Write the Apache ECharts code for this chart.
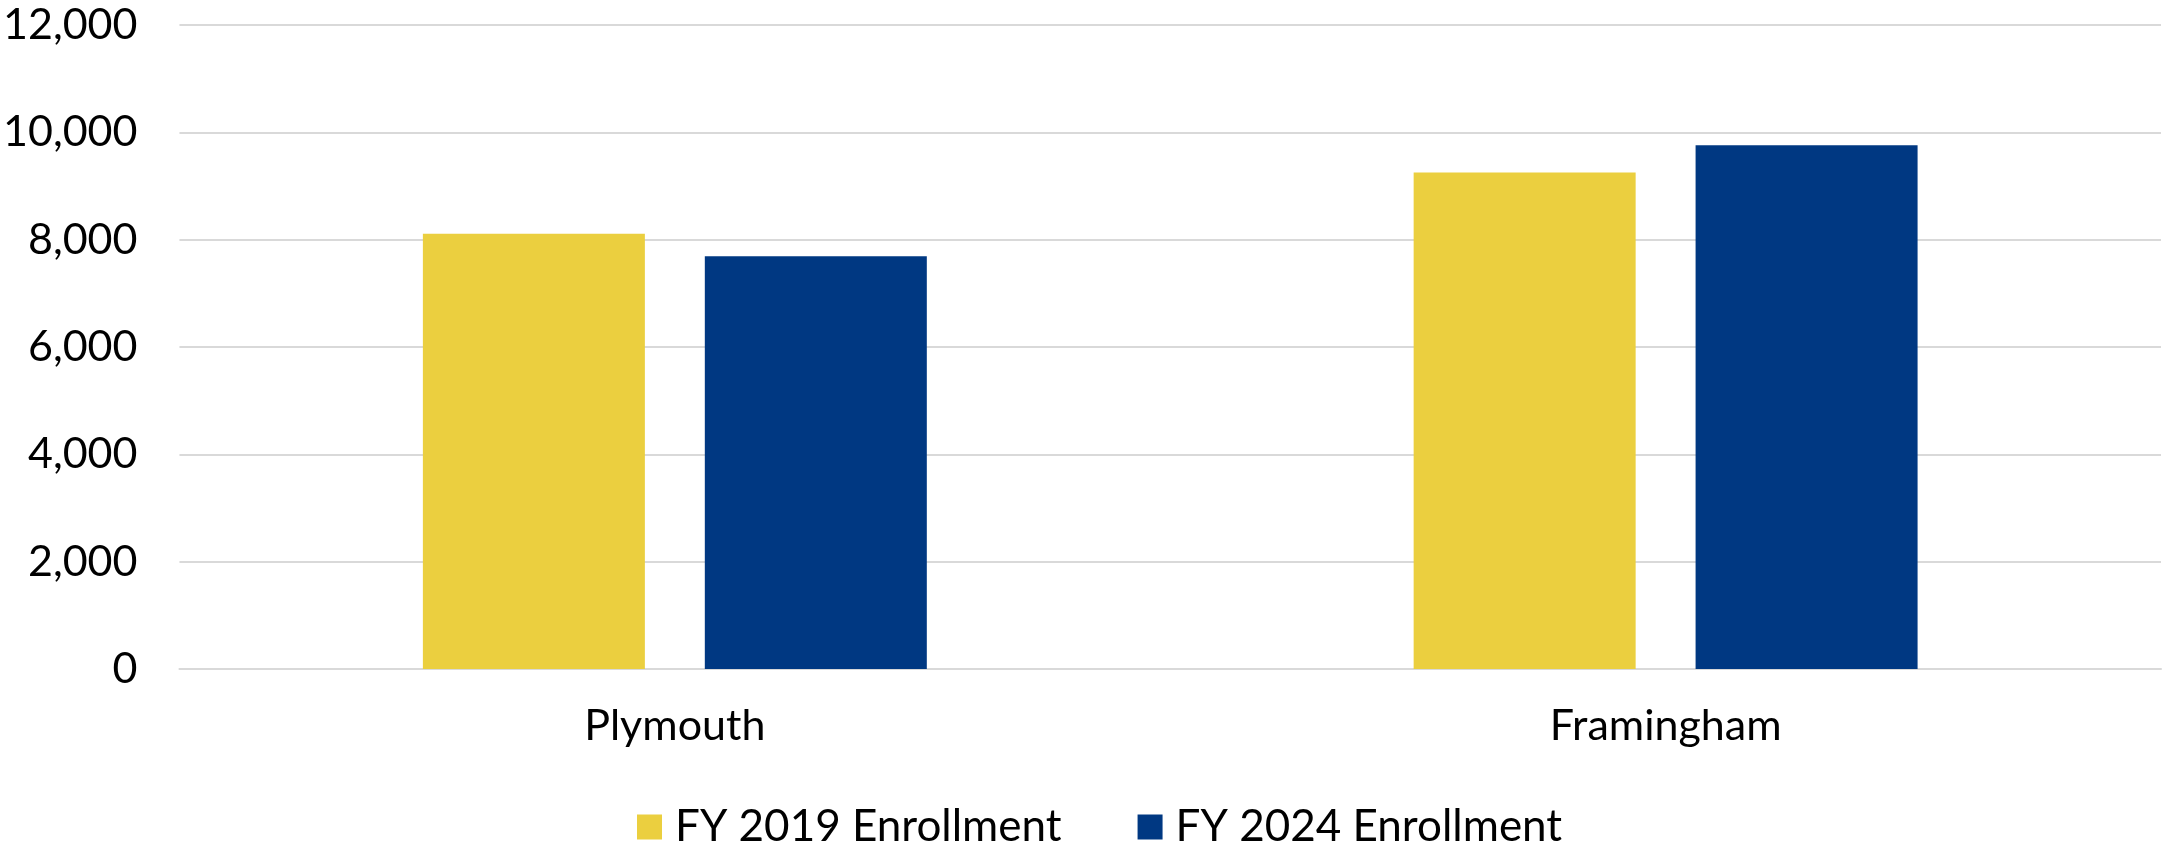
<!DOCTYPE html>
<html>
<head>
<meta charset="utf-8">
<script src="https://cdn.jsdelivr.net/npm/echarts@6/dist/echarts.min.js"></script>
<style>
  html, body { margin: 0; padding: 0; background: #fff; }
  #chart { width: 2163px; height: 846px; }
</style>
</head>
<body>
<div id="chart"></div>
<script>
// data
const campuses = ['Plymouth', 'Framingham']
const seriesNames = ['FY 2019 Enrollment', 'FY 2024 Enrollment']
const fy2019 = [8110, 9250]
const fy2024 = [7690, 9760]
const yTicks = { min: 0, max: 12000, interval: 2000 }

const FONT = 'Lato, "Open Sans", sans-serif'
const GRID_COLOR = '#d9d9d9'

const chart = echarts.init(document.getElementById('chart'))

chart.setOption({
  animation: false,
  color: ['#ebcf3f', '#003882'],
  grid: {
    left: 167,
    right: 2,
    top: 25,
    bottom: 177
  },
  legend: {
    data: seriesNames,
    left: 632,
    top: 800,
    itemWidth: 25,
    itemHeight: 25,
    itemGap: 76,
    icon: 'rect',
    textStyle: {
      fontFamily: FONT,
      fontSize: 44,
      color: '#000',
      padding: [0, 0, 0, 8]
    }
  },
  xAxis: {
    type: 'category',
    data: campuses,
    axisTick: { show: false },
    axisLine: { lineStyle: { color: GRID_COLOR, width: 2 } },
    axisLabel: {
      margin: 36,
      fontFamily: FONT,
      fontSize: 43,
      color: '#000'
    }
  },
  yAxis: {
    type: 'value',
    min: yTicks.min,
    max: yTicks.max,
    interval: yTicks.interval,
    axisLine: { show: false },
    axisTick: { show: false },
    splitLine: { lineStyle: { color: GRID_COLOR, width: 2 } },
    axisLabel: {
      margin: 42,
      fontFamily: FONT,
      fontSize: 43,
      color: '#000',
      formatter: v => v.toLocaleString('en-US')
    }
  },
  series: [
    {
      name: seriesNames[0],
      type: 'bar',
      data: fy2019,
      barWidth: 222,
      barGap: '27%'
    },
    {
      name: seriesNames[1],
      type: 'bar',
      data: fy2024,
      barWidth: 222
    }
  ]
})
</script>
</body>
</html>
